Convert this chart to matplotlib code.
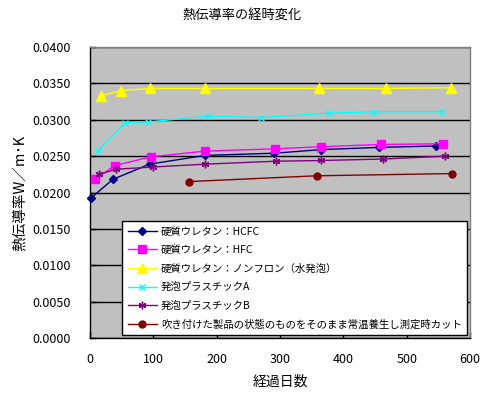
import matplotlib
matplotlib.use("Agg")
import matplotlib.pyplot as plt
from matplotlib.ticker import MultipleLocator, FormatStrFormatter

plt.rcParams['font.family'] = ['Noto Sans CJK JP', 'DejaVu Sans']

title = "熱伝導率の経時変化"
xlabel = "経過日数"
ylabel = "熱伝導率W／m･K"

labels = [
    "硬質ウレタン：HCFC",
    "硬質ウレタン：HFC",
    "硬質ウレタン：ノンフロン（水発泡）",
    "発泡プラスチックA",
    "発泡プラスチックB",
    "吹き付けた製品の状態のものをそのまま常温養生し測定時カット",
]

hcfc_x = [1, 36, 94, 182, 291, 365, 457, 547]
hcfc_y = [0.0192, 0.0218, 0.0239, 0.0251, 0.0254, 0.0259, 0.0262, 0.0264]

hfc_x = [8, 39, 96, 182, 292, 365, 459, 557]
hfc_y = [0.0218, 0.0237, 0.0249, 0.0257, 0.0260, 0.0263, 0.0266, 0.0267]

non_x = [17, 49, 94, 182, 361, 468, 570]
non_y = [0.0333, 0.0340, 0.0343, 0.0343, 0.0343, 0.0343, 0.0344]

pa_x = [12, 56, 92, 186, 270, 378, 449, 555]
pa_y = [0.0257, 0.0296, 0.0297, 0.0305, 0.0303, 0.0309, 0.0311, 0.0311]

pb_x = [15, 41, 99, 182, 293, 365, 463, 561]
pb_y = [0.0225, 0.0232, 0.0235, 0.0239, 0.0243, 0.0244, 0.0246, 0.0250]

sp_x = [156, 358, 571]
sp_y = [0.0215, 0.0223, 0.0226]

fig = plt.figure(figsize=(4.87, 3.95), dpi=100)
ax = fig.add_axes([0.1848, 0.1443, 0.7803, 0.7367])
ax.set_facecolor('#C0C0C0')

series = [
    (hcfc_x, hcfc_y, '#000080', 'D', 4.5),
    (hfc_x, hfc_y, '#FF00FF', 's', 5.5),
    (non_x, non_y, '#FFFF00', '^', 6.5),
    (pa_x, pa_y, '#00FFFF', 'x', 5.0),
    (pb_x, pb_y, '#800080', (6, 2, 0), 5.5),
    (sp_x, sp_y, '#800000', 'o', 5.0),
]
for (xs, ys, c, m, ms), lab in zip(series, labels):
    ax.plot(xs, ys, color=c, marker=m, markersize=ms, lw=1.0,
            markeredgecolor=c, markerfacecolor=c, markeredgewidth=1.0,
            label=lab, zorder=3, clip_on=False)

ax.set_xlim(0, 600)
ax.set_ylim(0, 0.04)
ax.yaxis.set_major_locator(MultipleLocator(0.005))
ax.yaxis.set_major_formatter(FormatStrFormatter('%.4f'))
ax.xaxis.set_major_locator(MultipleLocator(100))
ax.grid(axis='y', color='black', lw=1.0, zorder=1)
ax.set_axisbelow(True)

for s in ['top', 'right']:
    ax.spines[s].set_color('#808080')
    ax.spines[s].set_linewidth(1.0)
for s in ['left', 'bottom']:
    ax.spines[s].set_color('black')
    ax.spines[s].set_linewidth(1.0)

ax.tick_params(axis='both', direction='in', length=4, width=1, labelsize=9)
ax.tick_params(axis='x', pad=11)
ax.tick_params(axis='y', pad=14)

fig.text(0.497, 0.962, title, fontsize=9.5, ha='center', va='center')
ax.set_xlabel(xlabel, fontsize=10, labelpad=6)
ax.set_ylabel(ylabel, fontsize=10.5, labelpad=4)

leg = ax.legend(loc='lower right', bbox_to_anchor=(0.992, 0.01), fontsize=7.5,
                frameon=True, fancybox=False, framealpha=1, edgecolor='black',
                labelspacing=0.82, handlelength=2.8, handletextpad=0.4,
                borderpad=0.5, borderaxespad=0)
leg.get_frame().set_linewidth(1.0)
leg.set_zorder(5)

fig.savefig('out.png', dpi=100, facecolor='white')
